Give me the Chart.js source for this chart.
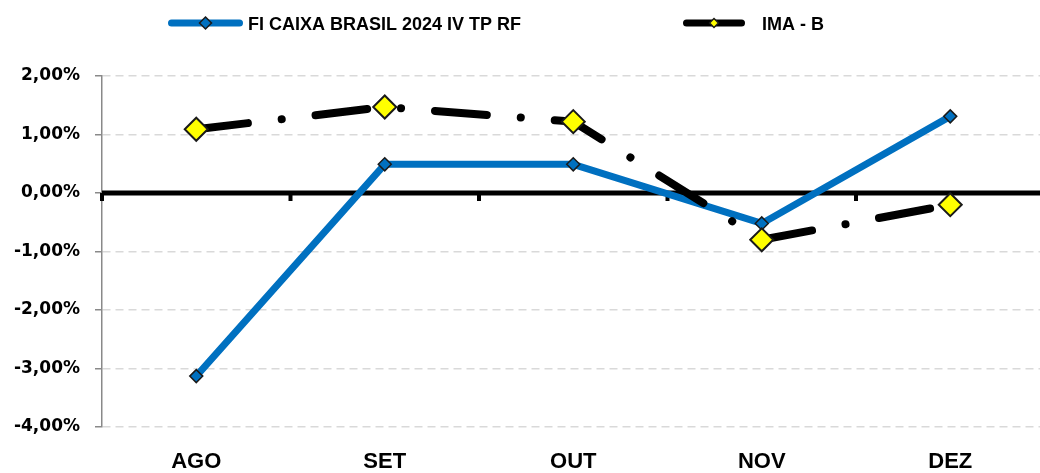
<!DOCTYPE html>
<html lang="pt-br">
<head>
<meta charset="UTF-8">
<title>FI CAIXA BRASIL 2024 IV TP RF x IMA - B</title>
<script src="https://cdn.jsdelivr.net/npm/chart.js"></script>
<style>
  html, body { margin: 0; padding: 0; background: #fff; overflow: hidden; }
  #caixa { position: absolute; left: 0; top: 0; width: 1058px; height: 473px; }
  #grafico1 { display: block; }
</style>
</head>
<body>
<div id="caixa"><canvas id="grafico1"></canvas></div>
<script>
// dados (em %)
const meses = ["AGO", "SET", "OUT", "NOV", "DEZ"]
const fundo = [-3.13, 0.49, 0.49, -0.52, 1.31]
const imab = [1.09, 1.47, 1.22, -0.80, -0.20]
const nomes = ["FI CAIXA BRASIL 2024 IV TP RF", "IMA - B"]
const ticksY = [-4, -3, -2, -1, 0, 1, 2]

const fonte = '"Liberation Sans", Arial, sans-serif'
const fonteY = '"DejaVu Sans", Verdana, sans-serif'
const formataPct = v => v.toFixed(2).replace('.', ',') + '%'

function diamante(ctx, x, y, r, cor, borda, lw) {
  ctx.beginPath()
  ctx.moveTo(x, y - r)
  ctx.lineTo(x + r, y)
  ctx.lineTo(x, y + r)
  ctx.lineTo(x - r, y)
  ctx.closePath()
  ctx.fillStyle = cor
  ctx.fill()
  ctx.lineWidth = lw
  ctx.strokeStyle = borda
  ctx.stroke()
}

// linha do zero preta com as marcas entre os meses
const linhaZero = {
  id: 'linhaZero',
  beforeDatasetsDraw(chart) {
    const {ctx, chartArea} = chart
    const x = chart.scales.x, y = chart.scales.y
    const y0 = y.getPixelForValue(0)
    ctx.save()
    ctx.strokeStyle = '#000'
    ctx.lineWidth = 4
    for (let i = 0; i <= meses.length; i++) {
      const px = x.getPixelForValue(i - 0.5)
      ctx.beginPath()
      ctx.moveTo(px, y0)
      ctx.lineTo(px, y0 + 8)
      ctx.stroke()
    }
    ctx.lineWidth = 5
    ctx.beginPath()
    ctx.moveTo(chartArea.left, y0)
    ctx.lineTo(chartArea.right, y0)
    ctx.stroke()
    ctx.restore()
  }
}

// legenda no estilo do excel
const legenda = {
  id: 'legenda',
  afterDraw(chart) {
    const ctx = chart.ctx
    const pos = [{x: 168, w: 75, t: 248, r: 6}, {x: 683, w: 62, t: 762, r: 4.5}]
    const yl = 23
    chart.data.datasets.forEach((ds, i) => {
      const p = pos[i]
      ctx.save()
      ctx.strokeStyle = ds.borderColor
      ctx.lineWidth = 7
      ctx.lineCap = 'round'
      ctx.beginPath()
      ctx.moveTo(p.x + 3.5, yl)
      ctx.lineTo(p.x + p.w - 3.5, yl)
      ctx.stroke()
      diamante(ctx, p.x + p.w / 2, yl, p.r, ds.pointBackgroundColor, '#1a1a1a', 1.5)
      ctx.font = 'bold 18px ' + fonte
      ctx.fillStyle = '#000'
      ctx.textBaseline = 'alphabetic'
      ctx.fillText(ds.label, p.t, 29.5)
      ctx.restore()
    })
  }
}

const ctx = document.getElementById('grafico1')

let grafico1 = new Chart(ctx, {
  type: 'line',
  data: {
    labels: meses,
    datasets: [{
      label: nomes[0],
      data: fundo,
      borderColor: '#0070C0',
      borderWidth: 7,
      borderJoinStyle: 'round',
      pointStyle: 'rectRot',
      pointRadius: 6.5,
      pointBackgroundColor: '#0070C0',
      pointBorderColor: '#1a1a1a',
      pointBorderWidth: 1.5,
      order: 1
    }, {
      label: nomes[1],
      data: imab,
      borderColor: '#000000',
      borderWidth: 8,
      borderCapStyle: 'round',
      borderDash: [52, 34, 0.1, 34],
      pointStyle: 'rectRot',
      pointRadius: 11.5,
      pointBackgroundColor: '#FFFF00',
      pointBorderColor: '#1a1a1a',
      pointBorderWidth: 2,
      order: 0
    }]
  },
  options: {
    responsive: true,
    maintainAspectRatio: false,
    animation: false,
    layout: { padding: { top: 76, right: 0, bottom: 0, left: 0 } },
    plugins: {
      legend: { display: false },
      tooltip: { enabled: false }
    },
    scales: {
      x: {
        offset: true,
        afterFit: s => { s.height = 46; s.paddingLeft = 0; s.paddingRight = 0 },
        grid: { display: false, drawTicks: false },
        border: { display: false },
        ticks: {
          color: '#000',
          padding: 22,
          font: { family: fonte, size: 22, weight: 'bold' }
        }
      },
      y: {
        min: ticksY[0],
        max: ticksY[ticksY.length - 1],
        afterFit: s => { s.width = 102; s.paddingTop = 0; s.paddingBottom = 0 },
        afterBuildTicks: s => { s.ticks = ticksY.map(v => ({value: v})) },
        grid: {
          color: '#D9D9D9',
          lineWidth: 1.5,
          tickLength: 7,
          tickColor: '#898989',
          tickWidth: 1.5,
          tickBorderDash: []
        },
        border: { display: true, color: '#898989', width: 1.5, dash: [8, 5] },
        ticks: {
          color: '#000',
          padding: 15,
          font: { family: fonteY, size: 17, weight: 'bold' },
          callback: v => formataPct(v)
        }
      }
    }
  },
  plugins: [linhaZero, legenda]
})
</script>
</body>
</html>
